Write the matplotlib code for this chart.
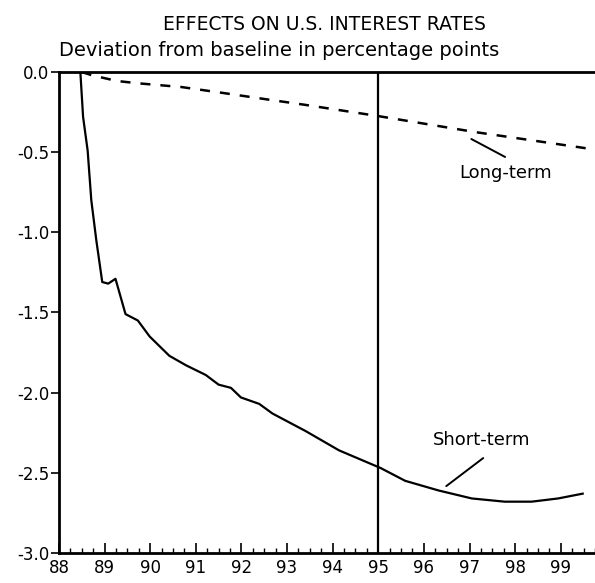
import matplotlib.pyplot as plt
import numpy as np

# ---------- font ----------
plt.rcParams['font.family'] = ['DejaVu Sans']

# ---------- data ----------
short_x = [88.47, 88.53, 88.63, 88.71, 88.82, 88.95, 89.08, 89.24, 89.46,
           89.73, 89.99, 90.42, 90.79, 91.22, 91.50, 91.77, 91.99, 92.39,
           92.68, 93.41, 94.14, 95.05, 95.59, 96.32, 97.05, 97.77, 98.36,
           98.94, 99.48]
short_y = [0.00, -0.28, -0.49, -0.80, -1.05, -1.31, -1.32, -1.29, -1.51,
           -1.55, -1.65, -1.77, -1.83, -1.89, -1.95, -1.97, -2.03, -2.07,
           -2.13, -2.24, -2.36, -2.47, -2.55, -2.61, -2.66, -2.68, -2.68,
           -2.66, -2.63]

long_x = [88.50, 88.72, 89.27, 89.72, 90.69, 91.58, 92.54, 93.40, 95.00,
          97.13, 99.42, 99.65]
long_y = [0.00, -0.02, -0.056, -0.07, -0.094, -0.13, -0.17, -0.205, -0.275,
          -0.375, -0.47, -0.48]

years = list(range(88, 100))
year_labels = [str(y) for y in years]
yticks = [0.0, -0.5, -1.0, -1.5, -2.0, -2.5, -3.0]
ytick_labels = ['0.0', '-0.5', '-1.0', '-1.5', '-2.0', '-2.5', '-3.0']
break_year = 95.0

# ---------- figure ----------
fig = plt.figure(figsize=(5.95, 5.83), dpi=100)
ax = fig.add_axes([0.099, 0.0515, 0.901, 0.825])

ax.plot(short_x, short_y, color='black', linewidth=1.6)
ax.plot(long_x, long_y, color='black', linewidth=1.8, dashes=(4, 4))
ax.axvline(break_year, color='black', linewidth=1.6)

ax.set_xlim(88, 99.7)
ax.set_ylim(-3.0, 0.0)

ax.set_xticks(years)
ax.set_xticklabels(year_labels, fontsize=12)
ax.set_xticks(np.arange(88, 99.76, 0.25), minor=True)
ax.tick_params(axis='x', which='major', direction='in', length=7, width=1.2, pad=4)
ax.tick_params(axis='x', which='minor', direction='in', length=3.5, width=1.0)

ax.set_yticks(yticks)
ax.set_yticklabels(ytick_labels, fontsize=12)
ax.tick_params(axis='y', which='major', direction='out', length=6, width=1.2, pad=1)

for side in ['left', 'bottom', 'top']:
    ax.spines[side].set_linewidth(2.0)
ax.spines['right'].set_visible(False)

# ---------- labels with leader lines ----------
lead = dict(arrowstyle='-', color='black', linewidth=1.4, shrinkA=0, shrinkB=0)
ax.annotate('', xy=(97.04, -0.418), xytext=(97.78, -0.53), arrowprops=lead)
ax.text(97.80, -0.63, 'Long-term', fontsize=13, ha='center', va='center')

ax.annotate('', xy=(96.49, -2.583), xytext=(97.30, -2.408), arrowprops=lead)
ax.text(97.26, -2.296, 'Short-term', fontsize=13, ha='center', va='center')

fig.text(0.546, 0.958, 'EFFECTS ON U.S. INTEREST RATES', fontsize=13.5,
         ha='center', va='center')
fig.text(0.099, 0.914, 'Deviation from baseline in percentage points',
         fontsize=14, ha='left', va='center')

fig.savefig('out.png', dpi=100)
